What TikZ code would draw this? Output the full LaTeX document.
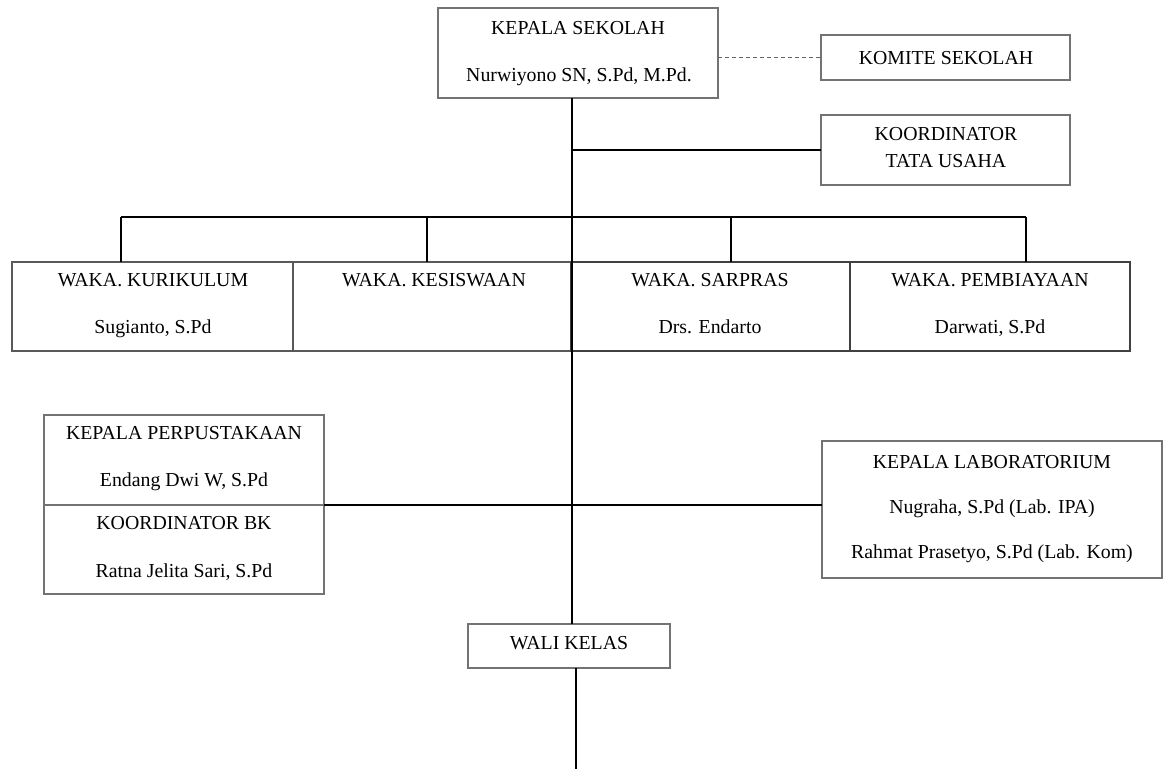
\documentclass[tikz,border=0pt]{standalone}
\usepackage{fontspec}
\setmainfont{Liberation Serif}
\begin{document}
\begin{tikzpicture}[x=1pt,y=-1pt,
  box/.style={draw=black!55, line width=1.6pt, inner sep=0pt, outer sep=0pt, fill=white},
  txt/.style={anchor=base, inner sep=0pt, font=\fontsize{19.8}{22}\selectfont},
  conn/.style={draw=black, line width=1.4pt},
  dashconn/.style={draw=black!60, line width=1.4pt, dash pattern=on 4pt off 3pt}]
\useasboundingbox (0,0) rectangle (1163,769);

% boxes
\node[box, minimum width=280pt, minimum height=90pt] (kepsek) at (578,53) {};
\node[box, minimum width=249pt, minimum height=45pt] (komite) at (945.5,57.5) {};
\node[box, minimum width=249pt, minimum height=70pt] (tu) at (945.5,150) {};
\node[box, draw=black!65, minimum width=281pt, minimum height=89pt] (kur) at (152.5,306.5) {};
\node[box, draw=black!65, minimum width=278pt, minimum height=89pt] (kes) at (432,306.5) {};
\node[box, draw=black!75, minimum width=279pt, minimum height=89pt] (sar) at (710.5,306.5) {};
\node[box, draw=black!75, minimum width=280pt, minimum height=89pt] (pem) at (990,306.5) {};
\node[box, minimum width=280pt, minimum height=90pt] (perpus) at (184,460) {};
\node[box, minimum width=280pt, minimum height=89pt] (bk) at (184,549.5) {};
\node[box, minimum width=340pt, minimum height=137pt] (lab) at (992,509.5) {};
\node[box, minimum width=202pt, minimum height=44pt] (wali) at (569,646) {};

% coordinates
\coordinate (spine) at (572,217);
\coordinate (b1) at (121,217);
\coordinate (b2) at (427,217);
\coordinate (b3) at (731,217);
\coordinate (b4) at (1026,217);
\coordinate (bottom) at (576,769);

% connectors
\draw[dashconn] (kepsek.east |- komite.west) -- (komite.west);
\draw[conn] (kepsek.south -| spine) -- (spine);
\draw[conn] (spine |- tu.west) -- (tu.west);
\draw[conn] (b1) -- (b4);
\draw[conn] (b1) -- (b1 |- kur.north);
\draw[conn] (b2) -- (b2 |- kes.north);
\draw[conn] (b3) -- (b3 |- sar.north);
\draw[conn] (b4) -- (b4 |- pem.north);
\draw[conn] (spine) -- (spine |- wali.north);
\draw[conn] (bk.north east) -- (bk.north east -| lab.west);
\draw[conn] (wali.south -| bottom) -- (bottom);

% texts
\node[txt] (t1) at (578,34.5) {KEPALA SEKOLAH};
\node[txt] (t2) at (579,81.5) {Nurwiyono SN, S.Pd, M.Pd.};
\node[txt] (t3) at (946,64.5) {KOMITE SEKOLAH};
\node[txt] (t4) at (946,140) {KOORDINATOR};
\node[txt] (t5) at (946,167) {TATA USAHA};
\node[txt] (t6) at (153,286.5) {WAKA. KURIKULUM};
\node[txt] (t7) at (153,333.5) {Sugianto, S.Pd};
\node[txt] (t8) at (434,286.5) {WAKA. KESISWAAN};
\node[txt] (t9) at (710,286.5) {WAKA. SARPRAS};
\node[txt] (t10) at (710,333.5) {Drs. Endarto};
\node[txt] (t11) at (990,286.5) {WAKA. PEMBIAYAAN};
\node[txt] (t12) at (990,333.5) {Darwati, S.Pd};
\node[txt] (t13) at (184,439.5) {KEPALA PERPUSTAKAAN};
\node[txt] (t14) at (184,486.5) {Endang Dwi W, S.Pd};
\node[txt] (t15) at (184,529.5) {KOORDINATOR BK};
\node[txt] (t16) at (184,577.5) {Ratna Jelita Sari, S.Pd};
\node[txt] (t17) at (992,468.5) {KEPALA LABORATORIUM};
\node[txt] (t18) at (992,513.5) {Nugraha, S.Pd (Lab. IPA)};
\node[txt] (t19) at (992,558.5) {Rahmat Prasetyo, S.Pd (Lab. Kom)};
\node[txt] (t20) at (569,649.5) {WALI KELAS};
\end{tikzpicture}
\end{document}
